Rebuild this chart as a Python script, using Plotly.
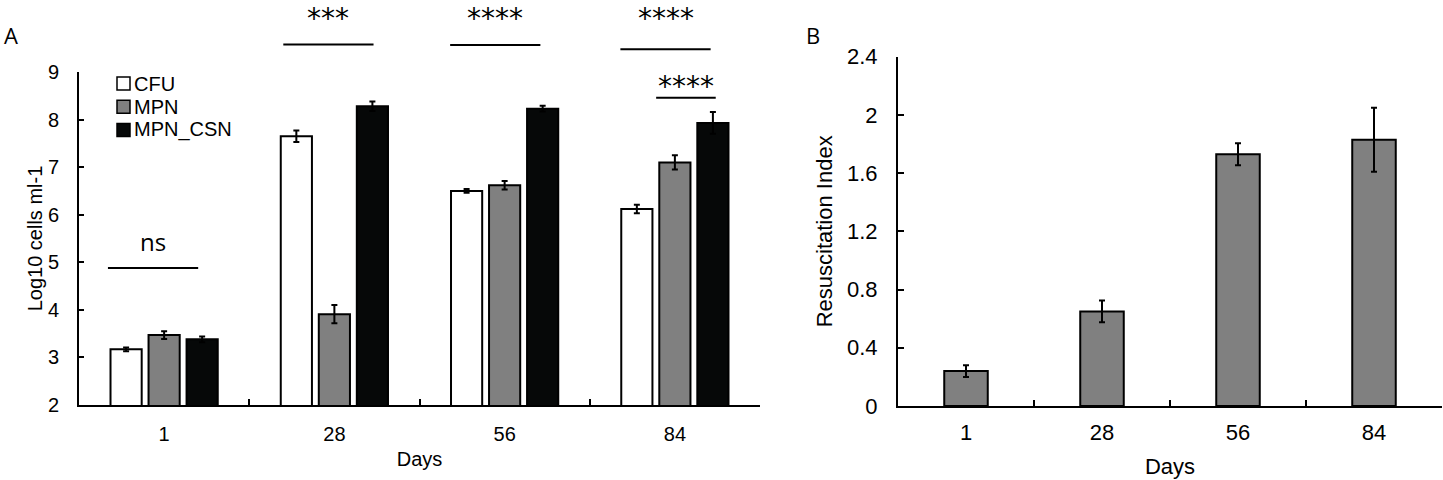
import plotly.graph_objects as go

W, H = 1443, 480

# panel A: log10 cells per ml
days = ["1", "28", "56", "84"]
cfu = [3.17, 7.65, 6.50, 6.12]
cfu_err = [0.04, 0.12, 0.04, 0.09]
mpn = [3.47, 3.91, 6.62, 7.10]
mpn_err = [0.08, 0.19, 0.09, 0.15]
mpn_csn = [3.38, 8.28, 8.23, 7.93]
mpn_csn_err = [0.06, 0.10, 0.06, 0.23]

# significance marks on panel A (bracket level, label level in log10 units)
sig_days = [0, 1, 2, 3, 3]
sig_levels = [4.88, 9.58, 9.57, 9.48, 8.46]
sig_text_levels = [5.40, 10.51, 10.51, 10.51, 8.86]
sig_labels = ["ns", "***", "****", "****", "****"]

# panel B: resuscitation index
resus_index = [0.24, 0.65, 1.73, 1.83]
resus_err = [0.04, 0.075, 0.075, 0.22]
b_ticks = [0, 0.4, 0.8, 1.2, 1.6, 2.0, 2.4]
b_tick_text = ["0", "0.4", "0.8", "1.2", "1.6", "2", "2.4"]

FONT = "Liberation Sans, Arial, sans-serif"

fig = go.Figure()

series = [
    ("CFU", cfu, cfu_err, "#ffffff"),
    ("MPN", mpn, mpn_err, "#808080"),
    ("MPN_CSN", mpn_csn, mpn_csn_err, "#060808"),
]
for name, vals, errs, color in series:
    fig.add_trace(go.Bar(
        x=days, y=vals, name=name, showlegend=False,
        marker=dict(color=color, line=dict(color="black", width=2)),
        error_y=dict(type="data", array=errs, color="black", thickness=2, width=3),
        xaxis="x", yaxis="y",
    ))

fig.add_trace(go.Bar(
    x=days, y=resus_index, showlegend=False, width=0.32,
    marker=dict(color="#808080", line=dict(color="black", width=2)),
    error_y=dict(type="data", array=resus_err, color="black", thickness=2, width=3),
    xaxis="x2", yaxis="y2",
))

shapes = []
annotations = []

# brackets, offsets from the day centre in category units
sig_spans = [(-0.33, 0.20), (-0.30, 0.23), (-0.32, 0.21), (-0.32, 0.21), (-0.11, 0.24)]
for d, lvl, tlvl, lab, (lo, hi) in zip(sig_days, sig_levels, sig_text_levels, sig_labels, sig_spans):
    shapes.append(dict(
        type="line", xref="x domain", yref="y domain",
        x0=(d + lo + 0.5) / 4, x1=(d + hi + 0.5) / 4,
        y0=(lvl - 2) / 7, y1=(lvl - 2) / 7,
        line=dict(color="black", width=2),
    ))
    is_ns = lab == "ns"
    at_top = tlvl > 10  # labels that sit against the top edge of the page
    annotations.append(dict(
        xref="x domain", yref="y domain",
        x=(d + (lo + hi) / 2 + 0.5) / 4, y=(tlvl - 2) / 7,
        text=lab, showarrow=False, xanchor="center",
        yanchor="top" if at_top else "middle",
        yshift=2 if is_ns else (0 if at_top else -8),
        font=dict(family="Open Sans, sans-serif" if is_ns else "DejaVu Sans, sans-serif",
                  size=24 if is_ns else 28, color="black"),
    ))

# legend box for panel A, drawn by hand to match the tight spacing
legend_names = [s[0] for s in series]
legend_colors = [s[3] for s in series]
for i, (name, color) in enumerate(zip(legend_names, legend_colors)):
    cy = 83.5 + 23.2 * i
    shapes.append(dict(
        type="rect", xref="paper", yref="paper",
        x0=117 / W, x1=130 / W, y0=1 - (cy + 6.5) / H, y1=1 - (cy - 6.5) / H,
        fillcolor=color, line=dict(color="black", width=1.5),
    ))
    annotations.append(dict(
        xref="paper", yref="paper", x=132 / W, y=1 - cy / H, text=name,
        showarrow=False, xanchor="left", yanchor="middle",
        font=dict(family=FONT, size=20, color="black"),
    ))

annotations.append(dict(xref="paper", yref="paper", x=2 / W, y=1 - 35 / H, text="A",
                        showarrow=False, xanchor="left", yanchor="middle",
                        font=dict(family="Open Sans, sans-serif", size=22, color="black")))
annotations.append(dict(xref="paper", yref="paper", x=804 / W, y=1 - 35 / H, text="B",
                        showarrow=False, xanchor="left", yanchor="middle",
                        font=dict(family="Open Sans, sans-serif", size=22, color="black")))

axis_style = dict(
    showline=True, linecolor="black", linewidth=2, mirror=False,
    ticks="inside", tickcolor="black", tickwidth=2,
    showgrid=False, zeroline=False, automargin=False,
)

fig.update_layout(
    width=W, height=H,
    margin=dict(l=0, r=0, t=0, b=0, autoexpand=False),
    paper_bgcolor="white", plot_bgcolor="white",
    font=dict(family=FONT, color="black"),
    barmode="group", bargap=0.33, bargroupgap=0.18,
    showlegend=False,
    xaxis=dict(domain=[79 / W, 760 / W], anchor="y", type="category",
               range=[-0.5, 3.5], tickson="boundaries", ticklen=6,
               tickfont=dict(size=20), ticklabelstandoff=10,
               title=dict(text="Days", font=dict(size=20), standoff=8), **axis_style),
    yaxis=dict(domain=[1 - 405 / H, 1 - 72 / H], anchor="x", range=[2, 9], dtick=1,
               ticklen=5, tickfont=dict(size=20), ticklabelstandoff=14,
               title=dict(text="Log10 cells ml-1", font=dict(size=20), standoff=0), **axis_style),
    xaxis2=dict(domain=[898 / W, 1442 / W], anchor="y2", type="category",
                range=[-0.5, 3.5], tickson="boundaries", ticklen=6,
                tickfont=dict(size=22), ticklabelstandoff=6,
                title=dict(text="Days", font=dict(size=22), standoff=14), **axis_style),
    yaxis2=dict(domain=[1 - 406 / H, 1 - 56.7 / H], anchor="x2", range=[0, 2.4],
                tickmode="array", tickvals=b_ticks, ticktext=b_tick_text,
                ticklen=6, tickfont=dict(size=22), ticklabelstandoff=14,
                title=dict(text="Resuscitation Index", font=dict(size=22), standoff=8), **axis_style),
    shapes=shapes,
    annotations=annotations,
)

fig.write_html("out.html", config={"displayModeBar": False},
               post_script="document.body.style.margin = '0';")
